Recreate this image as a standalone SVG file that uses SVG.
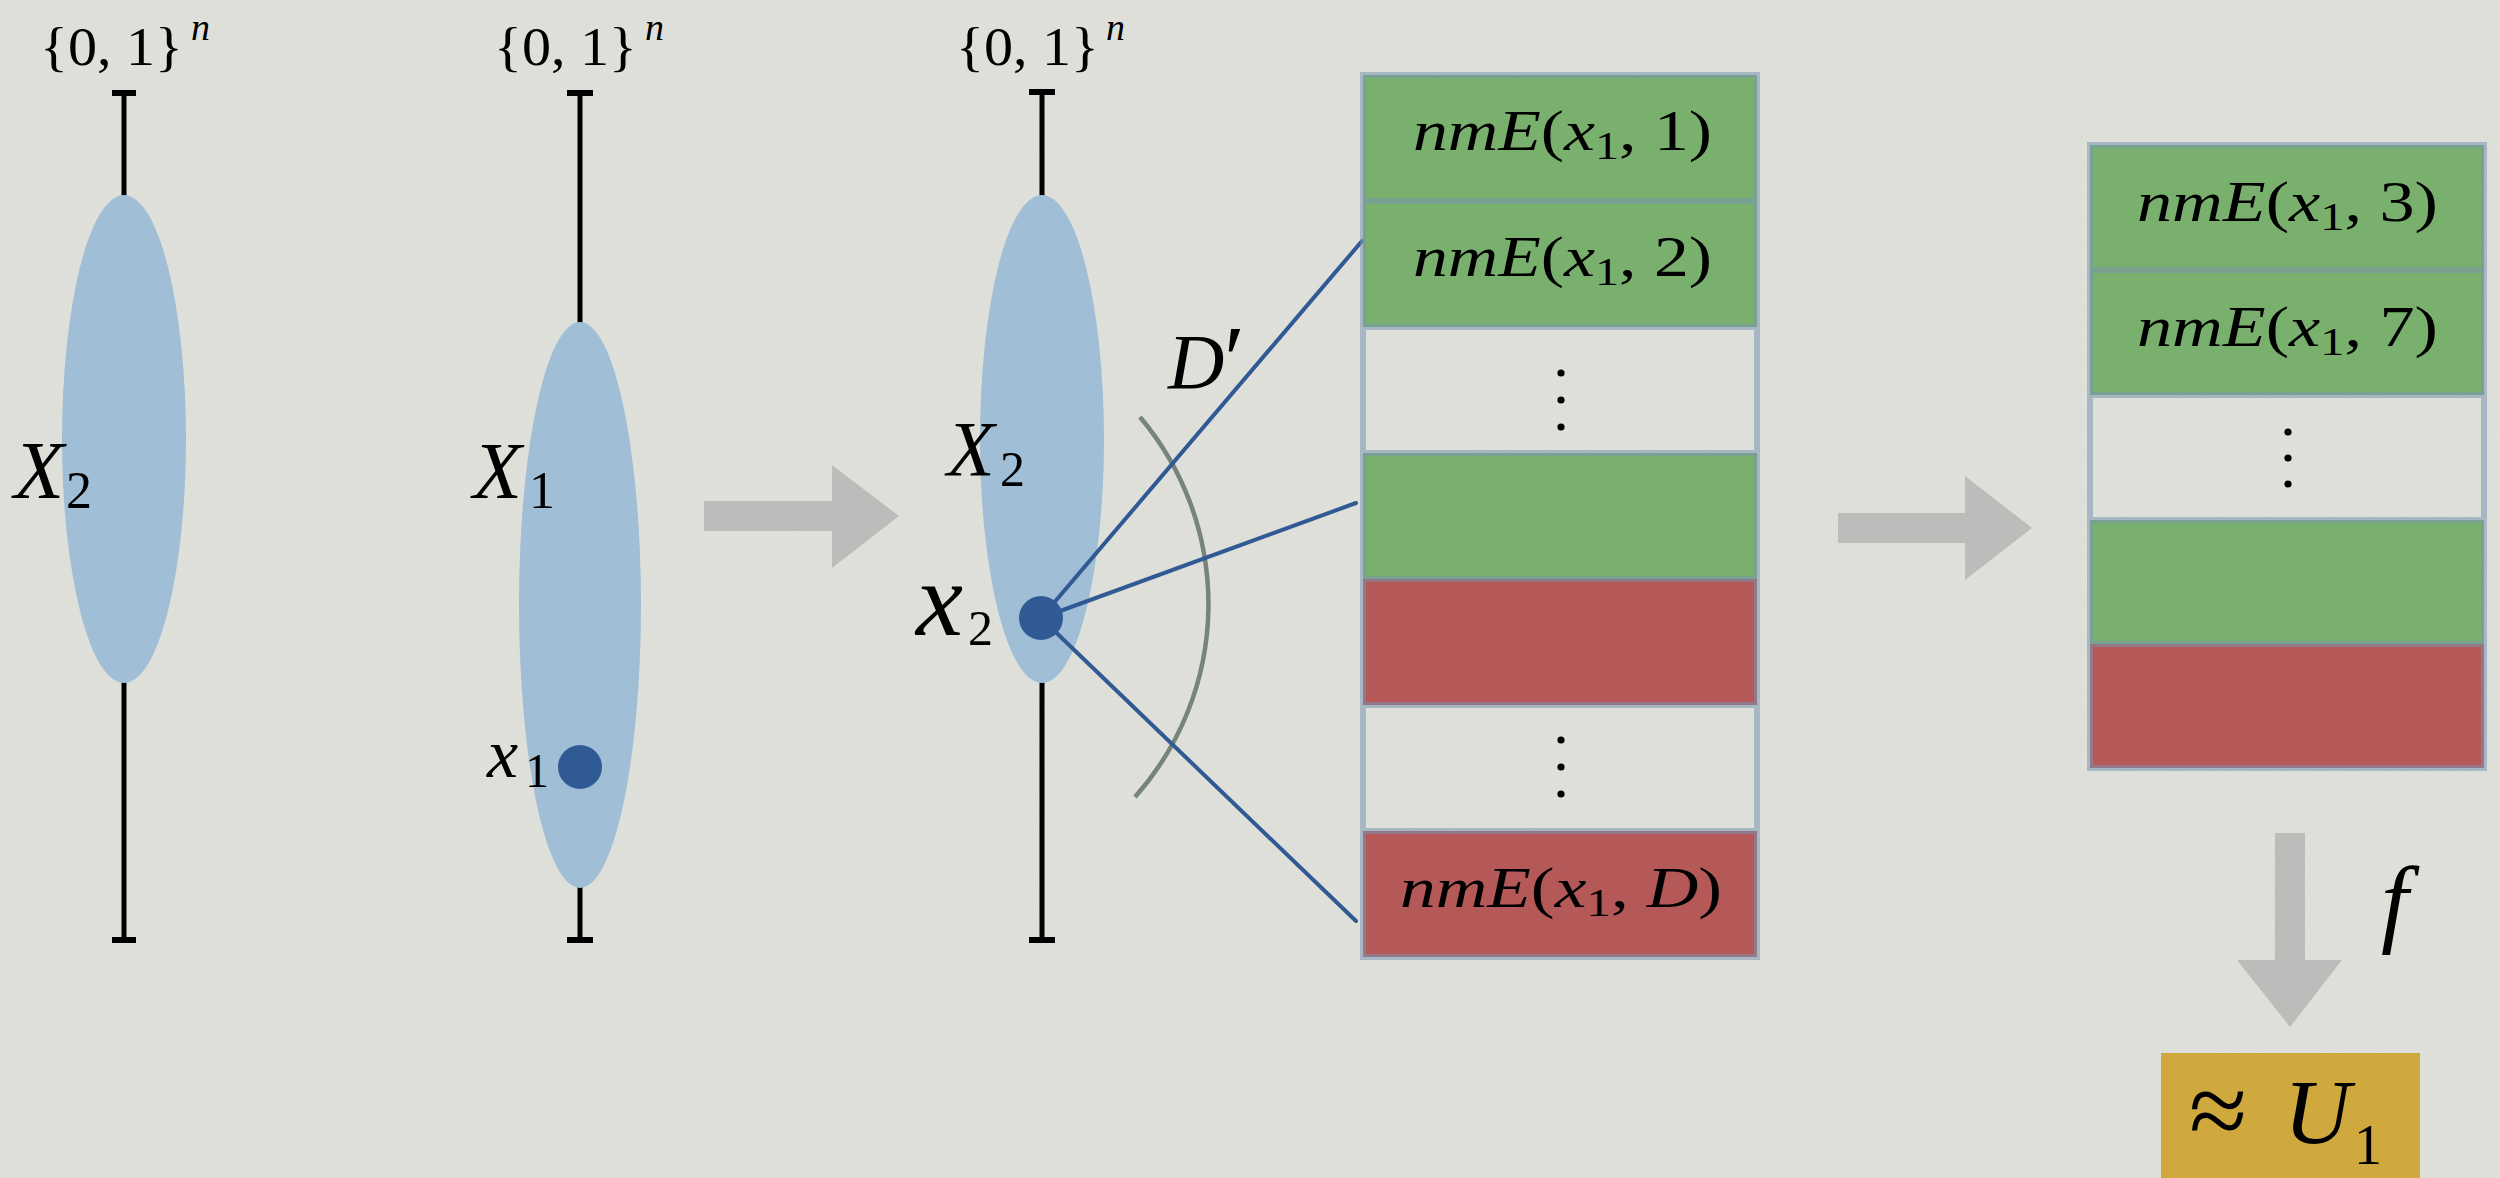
<svg xmlns="http://www.w3.org/2000/svg" width="2500" height="1178" viewBox="0 0 2500 1178">
  <defs>
    <style>
      .it { font-style: italic; }
      .axis { stroke: #000; stroke-width: 5; fill: none; }
      .tee { stroke: #000; stroke-width: 6; }
      .set { fill: #a0bfd7; }
      .dot { fill: #2f5a93; }
      .ray { stroke: #2f5a93; stroke-width: 4; fill: none; stroke-linecap: round; }
      .arc { stroke: #77847b; stroke-width: 4.5; fill: none; }
      .green { fill: #79b06d; }
      .red { fill: #b45858; }
      .grid { stroke: #7896b0; stroke-opacity: 0.55; stroke-width: 6; fill: none; }
      .bigarrow { fill: #bcbcba; }
      .vdot { fill: #000; }
    </style>
    <filter id="grain" x="0" y="0" width="100%" height="100%">
      <feTurbulence type="fractalNoise" baseFrequency="0.9" numOctaves="2" seed="3" result="n"/>
      <feColorMatrix type="matrix" values="0 0 0 0 0.5  0 0 0 0 0.5  0 0 0 0 0.5  0.33 0.33 0.33 0 -0.3"/>
    </filter>
  </defs>

  <rect x="0" y="0" width="2500" height="1178" fill="#e1e1dc"/>
  <rect x="0" y="0" width="2500" height="1178" filter="url(#grain)" opacity="0.25"/>

  <g font-family="'Liberation Serif', 'DejaVu Serif', serif" fill="#000">

  <!-- Left column: X2 -->
  <g id="col-left">
    <line class="axis" x1="124" y1="93" x2="124" y2="940"/>
    <line class="tee" x1="112" y1="93" x2="136" y2="93"/>
    <line class="tee" x1="112" y1="940" x2="136" y2="940"/>
    <ellipse class="set" cx="124" cy="439" rx="62" ry="244"/>
    <text x="40" y="65" font-size="54" textLength="143" lengthAdjust="spacingAndGlyphs">{0, 1}</text>
    <text class="it" x="191" y="40" font-size="38">n</text>
    <text class="it" x="14" y="498" font-size="82">X</text>
    <text x="66" y="508" font-size="52">2</text>
  </g>

  <!-- Middle column: X1 with x1 -->
  <g id="col-mid">
    <line class="axis" x1="580" y1="93" x2="580" y2="940"/>
    <line class="tee" x1="567" y1="93" x2="593" y2="93"/>
    <line class="tee" x1="567" y1="940" x2="593" y2="940"/>
    <ellipse class="set" cx="580" cy="605" rx="61" ry="283"/>
    <text x="494" y="65" font-size="54" textLength="143" lengthAdjust="spacingAndGlyphs">{0, 1}</text>
    <text class="it" x="645" y="40" font-size="38">n</text>
    <text class="it" x="473" y="498" font-size="80">X</text>
    <text x="529" y="508" font-size="52">1</text>
    <circle class="dot" cx="580" cy="767" r="22"/>
    <text class="it" x="487" y="777" font-size="70">x</text>
    <text x="525" y="787" font-size="48">1</text>
  </g>

  <!-- Right column: X2 with x2 -->
  <g id="col-right">
    <line class="axis" x1="1042" y1="92" x2="1042" y2="940"/>
    <line class="tee" x1="1029" y1="92" x2="1055" y2="92"/>
    <line class="tee" x1="1029" y1="940" x2="1055" y2="940"/>
    <ellipse class="set" cx="1042" cy="439" rx="62" ry="244"/>
    <text x="956" y="65" font-size="54" textLength="143" lengthAdjust="spacingAndGlyphs">{0, 1}</text>
    <text class="it" x="1106" y="40" font-size="38">n</text>
    <text class="it" x="947" y="475" font-size="78">X</text>
    <text x="1000" y="486" font-size="50">2</text>
    <text class="it" x="916" y="635" font-size="106">x</text>
    <text x="968" y="645" font-size="50">2</text>
  </g>

  <!-- Connectors -->
  <g id="connectors">
    <path class="arc" d="M1140,417 A290,290 0 0 1 1135,797"/>
    <line class="ray" x1="1041" y1="618" x2="1362" y2="241"/>
    <line class="ray" x1="1041" y1="618" x2="1356" y2="503"/>
    <line class="ray" x1="1041" y1="618" x2="1356" y2="921"/>
    <path class="bigarrow" d="M704,501 L832,501 L832,465 L899,516 L832,568 L832,531 L704,531 Z"/>
    <path class="bigarrow" d="M1838,513 L1965,513 L1965,476 L2032,528 L1965,580 L1965,543 L1838,543 Z"/>
    <path class="bigarrow" d="M2275,833 L2305,833 L2305,960 L2342,960 L2290,1027 L2237,960 L2275,960 Z"/>
  </g>

  <g id="x2-dot">
    <circle class="dot" cx="1041" cy="618" r="22"/>
  </g>

  <g id="label-Dprime">
    <text class="it" x="1168" y="388" font-size="78">D</text>
    <text x="1224" y="392" font-size="96">′</text>
  </g>

  <!-- Table 1 -->
  <g id="table-1">
    <rect class="green" x="1363" y="75" width="394" height="126"/>
    <rect class="green" x="1363" y="201" width="394" height="126"/>
    <rect class="green" x="1363" y="453" width="394" height="126"/>
    <rect class="red" x="1363" y="579" width="394" height="126"/>
    <rect class="red" x="1363" y="831" width="394" height="126"/>
    <path class="grid" d="M1363,75 H1757 V957 H1363 Z M1363,201 H1757 M1363,327 H1757 M1363,453 H1757 M1363,579 H1757 M1363,705 H1757 M1363,831 H1757"/>
    <text x="1413" y="150" font-size="58" textLength="299" lengthAdjust="spacingAndGlyphs"><tspan class="it">nmE</tspan>(<tspan class="it">x</tspan><tspan font-size="40" dy="9">1</tspan><tspan dy="-9">, 1)</tspan></text>
    <text x="1413" y="276" font-size="58" textLength="299" lengthAdjust="spacingAndGlyphs"><tspan class="it">nmE</tspan>(<tspan class="it">x</tspan><tspan font-size="40" dy="9">1</tspan><tspan dy="-9">, 2)</tspan></text>
    <circle class="vdot" cx="1561" cy="373" r="3.6"/>
    <circle class="vdot" cx="1561" cy="400" r="3.6"/>
    <circle class="vdot" cx="1561" cy="427" r="3.6"/>
    <circle class="vdot" cx="1561" cy="740" r="3.6"/>
    <circle class="vdot" cx="1561" cy="767" r="3.6"/>
    <circle class="vdot" cx="1561" cy="794" r="3.6"/>
    <text x="1400" y="907" font-size="58" textLength="322" lengthAdjust="spacingAndGlyphs"><tspan class="it">nmE</tspan>(<tspan class="it">x</tspan><tspan font-size="40" dy="9">1</tspan><tspan dy="-9">, </tspan><tspan class="it">D</tspan>)</text>
  </g>

  <!-- Table 2 -->
  <g id="table-2">
    <rect class="green" x="2090" y="145" width="394" height="125"/>
    <rect class="green" x="2090" y="270" width="394" height="125"/>
    <rect class="green" x="2090" y="520" width="394" height="124"/>
    <rect class="red" x="2090" y="644" width="394" height="124"/>
    <path class="grid" d="M2090,145 H2484 V768 H2090 Z M2090,270 H2484 M2090,395 H2484 M2090,520 H2484 M2090,644 H2484"/>
    <text x="2137" y="221" font-size="58" textLength="301" lengthAdjust="spacingAndGlyphs"><tspan class="it">nmE</tspan>(<tspan class="it">x</tspan><tspan font-size="40" dy="9">1</tspan><tspan dy="-9">, 3)</tspan></text>
    <text x="2137" y="346" font-size="58" textLength="301" lengthAdjust="spacingAndGlyphs"><tspan class="it">nmE</tspan>(<tspan class="it">x</tspan><tspan font-size="40" dy="9">1</tspan><tspan dy="-9">, 7)</tspan></text>
    <circle class="vdot" cx="2288" cy="432" r="3.6"/>
    <circle class="vdot" cx="2288" cy="458" r="3.6"/>
    <circle class="vdot" cx="2288" cy="484" r="3.6"/>
  </g>

  <g id="label-f">
    <text class="it" x="2381" y="934" font-size="98">f</text>
  </g>

  <g id="result-U1">
    <rect x="2161" y="1053" width="259" height="125" fill="#cfa93e"/>
    <text x="2189" y="1146" font-size="106">≈</text>
    <text class="it" x="2284" y="1143" font-size="92">U</text>
    <text x="2354" y="1164" font-size="56">1</text>
  </g>

  </g>
</svg>
